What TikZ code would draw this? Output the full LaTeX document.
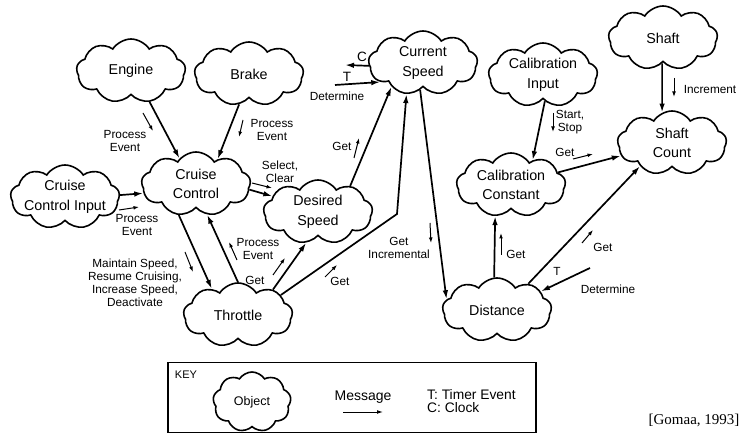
\documentclass[tikz,border=0pt]{standalone}
\usepackage{fontspec}
\setmainfont{Liberation Sans}
\newfontfamily\gomaafont{Liberation Serif}
\usetikzlibrary{shapes.symbols,arrows.meta}
\begin{document}
\begin{tikzpicture}[x=1pt,y=-1pt,
  obj/.style={cloud, draw, cloud puffs=9, cloud puff arc=115, cloud ignores aspect,
    minimum width=109pt, minimum height=64pt, inner sep=0pt, line width=1.6pt},
  objtext/.style={align=center, font=\fontsize{14.3}{19.5}\selectfont, inner sep=0pt},
  conn/.style={line width=1.7pt, -{Latex[length=9pt,width=5.5pt]}},
  msg/.style={line width=1pt, -{Latex[length=5.5pt,width=3.8pt]}},
  lbl/.style={align=center, font=\fontsize{11.8}{13}\selectfont, inner sep=0pt}
]
\useasboundingbox (0,0) rectangle (740,435);

% objects
\node[obj, label={[objtext]center:Engine}] (engine) at (131,71) {};
\node[obj, label={[objtext]center:Brake}] (brake) at (249,74) {};
\node[obj, label={[objtext]center:Cruise\\Control}] (cruise) at (196,184) {};
\node[obj, label={[objtext]center:Cruise\\Control Input}] (cci) at (65,197) {};
\node[obj, label={[objtext]center:Desired\\Speed}] (desired) at (318,212) {};
\node[obj, label={[objtext]center:Throttle}] (throttle) at (238,315) {};
\node[obj, label={[objtext]center:Current\\Speed}] (current) at (423,63) {};
\node[obj, label={[objtext]center:Calibration\\Input}] (calin) at (543,75) {};
\node[obj, label={[objtext]center:Shaft}] (shaft) at (663,38) {};
\node[obj, label={[objtext]center:Shaft\\Count}] (shaftcount) at (672,143) {};
\node[obj, label={[objtext]center:Calibration\\Constant}] (calconst) at (511,185) {};
\node[obj, label={[objtext]center:Distance}] (distance) at (497,310) {};

% connectors
\draw[conn] (engine.301) -- (cruise.123);
\draw[conn] (brake.252) -- (cruise.49);
\draw[conn] (cci.2) -- (cruise.190);
\draw[conn] (cruise.354) -- (desired.161);
\draw[conn] (cruise.241) -- (throttle.135);
\draw[conn] (throttle.90) -- (cruise.290);
\draw[conn] (throttle.36) -- (desired.249);
\coordinate (bend) at (397,214);
\draw[conn] (throttle.25) -- (bend) -- (current.242);
\draw[conn] (desired.39) -- (current.217);
\draw[conn] (current.264) -- (distance.168);
\draw[conn] (distance.95) -- (calconst.243);
\draw[conn] (distance.40) -- (shaftcount.216);
\coordinate (tdist) at (590,268);
\draw[conn] (tdist) -- (distance.23);
\draw[conn] (calin.274) -- (calconst.49);
\draw[conn] (calconst.15) -- (shaftcount.194);
\draw[conn] (shaft.268) -- (shaftcount.108);
\coordinate (cend) at (345,65);
\draw[conn] (current.183) -- (cend);
\coordinate (tstart) at (335,85);
\draw[conn] (tstart) -- (current.204);

% message direction arrows
\draw[msg] (143,113) -- (153,131);
\draw[msg] (243,120) -- (239,137);
\draw[msg] (119,210) -- (139,207);
\draw[msg] (252,183) -- (272,188);
\draw[msg] (185,252) -- (193,272);
\draw[msg] (237,260) -- (229,242);
\draw[msg] (273,275) -- (285,258);
\draw[msg] (325,277) -- (337,265);
\draw[msg] (354,158) -- (359,138);
\draw[msg] (430,223) -- (431,243);
\draw[msg] (501,255) -- (501,233);
\draw[msg] (582,243) -- (593,230);
\draw[msg] (553,113) -- (553,132);
\draw[msg] (573,159) -- (593,154);
\draw[msg] (674,78) -- (674,97);

% labels
\node[lbl] (l1) at (125,141) {Process\\Event};
\node[lbl] (l2) at (272,130) {Process\\Event};
\node[lbl] (l3) at (137,225) {Process\\Event};
\node[lbl] (l4) at (280,172) {Select,\\Clear};
\node[lbl] (l5) at (135,283) {Maintain Speed,\\Resume Cruising,\\Increase Speed,\\Deactivate};
\node[lbl] (l6) at (258,249) {Process\\Event};
\node[lbl] (l7) at (255,280) {Get};
\node[lbl] (l8) at (340,281) {Get};
\node[lbl] (l9) at (342,146) {Get};
\node[lbl] (l10) at (399,248) {Get\\Incremental};
\node[lbl] (l11) at (516,254) {Get};
\node[lbl] (l12) at (603,247) {Get};
\node[lbl] (l13) at (557,271) {T};
\node[lbl] (l14) at (608,289) {Determine};
\node[lbl] (l15) at (570,122) {Start,\\Stop};
\node[lbl] (l16) at (565,152) {Get};
\node[lbl] (l17) at (710,90) {Increment};
\node[lbl, font=\fontsize{13.5}{13.5}\selectfont] (l18) at (362,57) {C};
\node[lbl, font=\fontsize{13.5}{13.5}\selectfont] (l19) at (347,77) {T};
\node[lbl] (l20) at (337,96) {Determine};

% key
\node[draw, line width=1.5pt, minimum width=368pt, minimum height=70pt, inner sep=0pt,
  anchor=north west] (keybox) at (167,362) {};
\node[font=\fontsize{11}{12}\selectfont, inner sep=0pt] (keylbl) at (186,375) {KEY};
\node[obj, minimum width=78pt, minimum height=60pt,
  label={[objtext, font=\fontsize{12.5}{14}\selectfont]center:Object}] (keyobj) at (252,402) {};
\node[font=\fontsize{14}{16}\selectfont, inner sep=0pt] (msglbl) at (363,397) {Message};
\coordinate (ma) at (343,412);
\coordinate (mb) at (383,412);
\draw[line width=0.9pt, -{Latex[length=6pt,width=3.8pt]}] (ma) -- (mb);
\node[anchor=west, align=left, inner sep=0pt, font=\fontsize{13.8}{13.5}\selectfont] (tc) at (427,401) {T: Timer Event\\C: Clock};
\node[font=\gomaafont\fontsize{15}{18}\selectfont, inner sep=0pt] (ref) at (694,420) {[Gomaa, 1993]};
\end{tikzpicture}
\end{document}
